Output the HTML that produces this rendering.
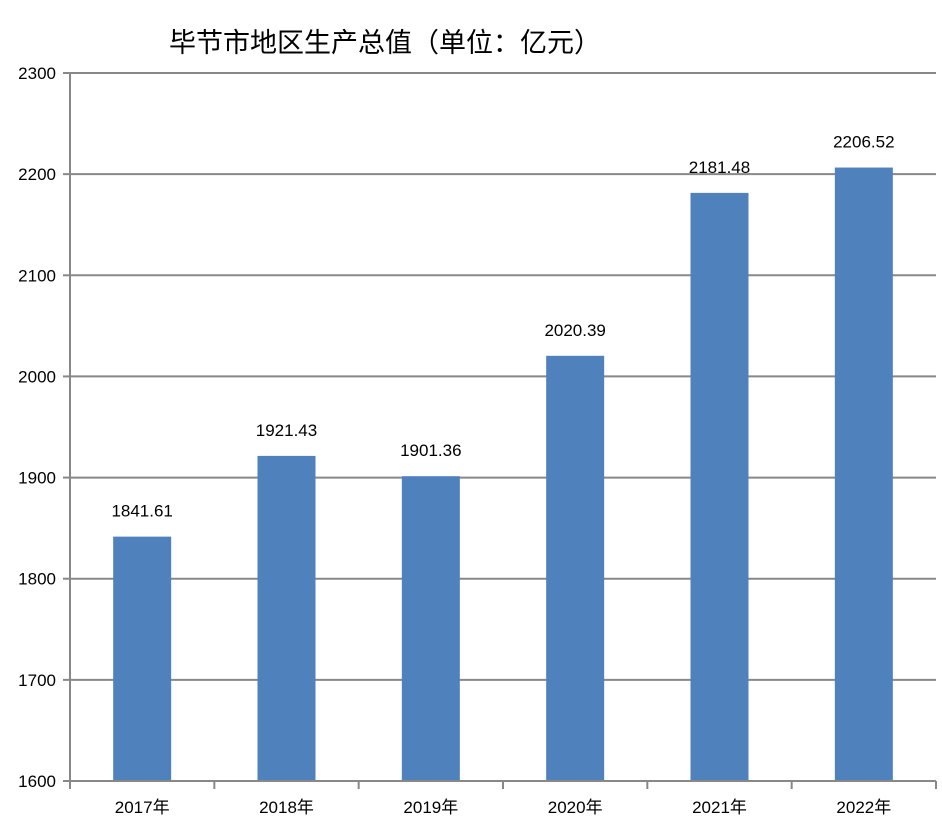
<!DOCTYPE html>
<html><head><meta charset="utf-8"><style>
body{margin:0;background:#fff;}
svg text{font-family:"Liberation Sans","Noto Sans CJK SC",sans-serif;}
</style></head><body>
<svg id="c" width="942" height="830" viewBox="0 0 942 830" xmlns="http://www.w3.org/2000/svg">
<text x="385" y="52" text-anchor="middle" font-size="27" fill="#000">毕节市地区生产总值（单位：亿元）</text>
<g id="grid"></g><g id="bars"></g><g id="axes"></g>
</svg>
<script>
const categories=["2017年","2018年","2019年","2020年","2021年","2022年"];
const values=[1841.61,1921.43,1901.36,2020.39,2181.48,2206.52];
const valueLabels=["1841.61","1921.43","1901.36","2020.39","2181.48","2206.52"];
const yTicks=[1600,1700,1800,1900,2000,2100,2200,2300];
const NS="http://www.w3.org/2000/svg";
const L=70,R=936,T=73,B=781,ymin=1600,ymax=2300;
const y=v=>B-(v-ymin)/(ymax-ymin)*(B-T);
const cw=(R-L)/categories.length;
const x=i=>L+cw*(i+0.5);
function mk(tag,attrs,parent){const e=document.createElementNS(NS,tag);for(const k in attrs)e.setAttribute(k,attrs[k]);document.getElementById(parent).appendChild(e);return e;}
yTicks.forEach(t=>{
  if(t>ymin){const g=mk('line',{x1:L,x2:R,y1:y(t),y2:y(t),stroke:'#888','stroke-width':2},'grid');
  
  }
  const tk=mk('line',{x1:63,x2:L,y1:y(t),y2:y(t),stroke:'#888','stroke-width':2},'axes');
  
  
  const tx=mk('text',{x:56,y:y(t)+6,'text-anchor':'end','font-size':17,fill:'#000'},'axes');
  
  
  tx.textContent=t;
});
values.forEach((v,i)=>{
  const b=mk('rect',{x:x(i)-29,y:y(v),width:58,height:B-y(v),fill:'#4f81bd'},'bars');
  
  
  const t=mk('text',{x:x(i),y:y(v)-20,'text-anchor':'middle','font-size':17,fill:'#000'},'bars');
  
  
  t.textContent=valueLabels[i];
  const c=mk('text',{x:x(i),y:813,'text-anchor':'middle','font-size':17,fill:'#000'},'axes');
  
  
  c.textContent=categories[i];
});
for(let i=0;i<=categories.length;i++){
  const tk=mk('line',{x1:L+cw*i,x2:L+cw*i,y1:B,y2:789,stroke:'#888','stroke-width':2},'axes');
  
  
}
const ya=mk('line',{x1:L,x2:L,y1:T,y2:B,stroke:'#888','stroke-width':2},'axes');


const xa=mk('line',{x1:L,x2:R,y1:B,y2:B,stroke:'#888','stroke-width':2},'axes');


</script>
</body></html>
